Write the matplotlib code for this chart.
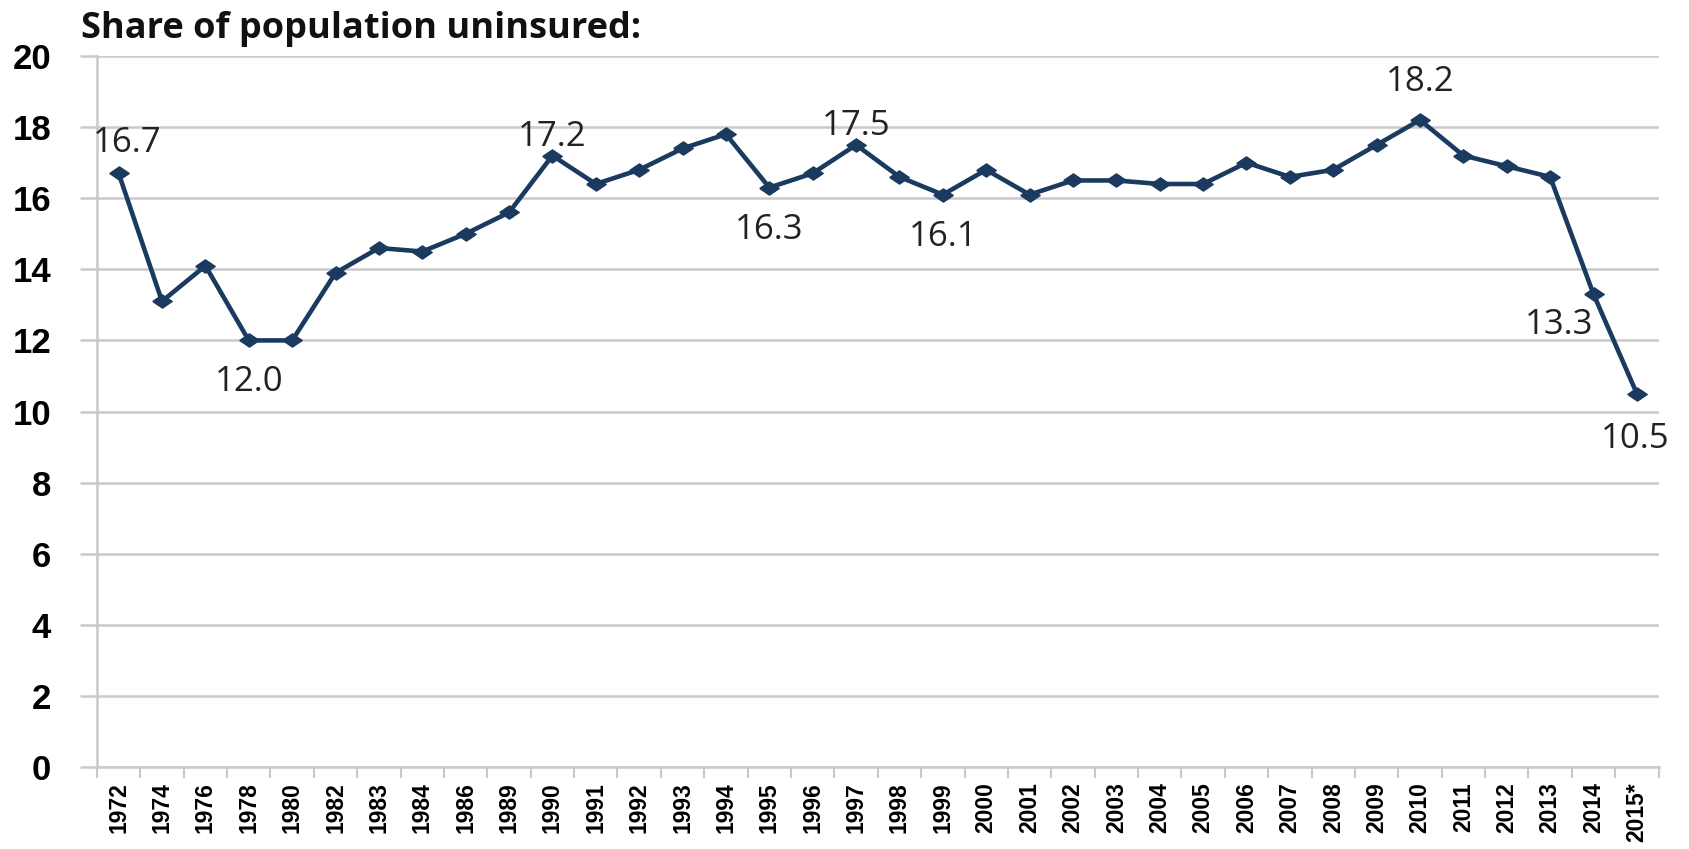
import matplotlib
matplotlib.use("Agg")
import matplotlib.pyplot as plt
from matplotlib.ticker import FixedLocator, MultipleLocator

years = ["1972", "1974", "1976", "1978", "1980", "1982", "1983", "1984", "1986",
         "1989", "1990", "1991", "1992", "1993", "1994", "1995", "1996", "1997",
         "1998", "1999", "2000", "2001", "2002", "2003", "2004", "2005", "2006",
         "2007", "2008", "2009", "2010", "2011", "2012", "2013", "2014", "2015*"]
uninsured = [16.7, 13.1, 14.1, 12.0, 12.0, 13.9, 14.6, 14.5, 15.0,
             15.6, 17.2, 16.4, 16.8, 17.4, 17.8, 16.3, 16.7, 17.5,
             16.6, 16.1, 16.8, 16.1, 16.5, 16.5, 16.4, 16.4, 17.0,
             16.6, 16.8, 17.5, 18.2, 17.2, 16.9, 16.6, 13.3, 10.5]
labelled = ["1972", "1978", "1990", "1995", "1997", "1999", "2010", "2014", "2015*"]

# label offsets in pixels (dx, dy)
offsets = {"1972": (9, 30), "1978": (0, -42), "1990": (0, 19), "1995": (0, -42),
           "1997": (0, 19), "1999": (0, -42), "2010": (0, 38), "2014": (-34, -31),
           "2015*": (-2, -45)}

navy = "#1b3a5f"
grid = "#c9c9c9"
diamond = [(-1, 0), (0, 0.68), (1, 0), (0, -0.68), (-1, 0)]

fig = plt.figure(figsize=(16.89, 8.49), dpi=100)
ax = fig.add_axes([0.0574, 0.0966, 0.9246, 0.8374])

x = list(range(len(years)))
ax.plot(x, uninsured, color=navy, lw=3.3, marker=diamond, ms=14, zorder=3)

for i, (yr, v) in enumerate(zip(years, uninsured)):
    if yr in labelled:
        dx, dy = offsets[yr]
        ax.annotate(f"{v:.1f}", xy=(i, v), xytext=(dx, dy), textcoords="offset pixels",
                    ha="center", va="center", fontsize=25, color="#222222",
                    family="Open Sans")

ax.set_xlim(-0.5, len(years) - 0.5)
ax.set_ylim(0, 20)
ax.yaxis.set_major_locator(MultipleLocator(2))
ax.yaxis.grid(True, color=grid, lw=1.8)
ax.set_axisbelow(True)

ax.set_xticks(x)
ax.set_xticklabels(years, rotation=90, fontsize=16.5, fontweight="bold",
                   family="Liberation Sans")
ax.xaxis.set_minor_locator(FixedLocator([i - 0.5 for i in range(len(years) + 1)]))
ax.tick_params(axis="x", which="major", length=0, pad=11)
ax.tick_params(axis="x", which="minor", length=8, color=grid, width=1.5)
ax.tick_params(axis="y", length=12, color=grid, width=1.8, pad=21)
for lab in ax.get_yticklabels():
    lab.set_fontsize(25)
    lab.set_fontweight("bold")
    lab.set_family("Liberation Sans")

for s in ["top", "right"]:
    ax.spines[s].set_visible(False)
for s in ["left", "bottom"]:
    ax.spines[s].set_color(grid)
    ax.spines[s].set_linewidth(1.8)

fig.text(81 / 1689, 1 - 38 / 849, "Share of population uninsured:", fontsize=26,
         fontweight="bold", family="Open Sans", color="#111111", va="baseline")

fig.savefig("out.png", dpi=100)
